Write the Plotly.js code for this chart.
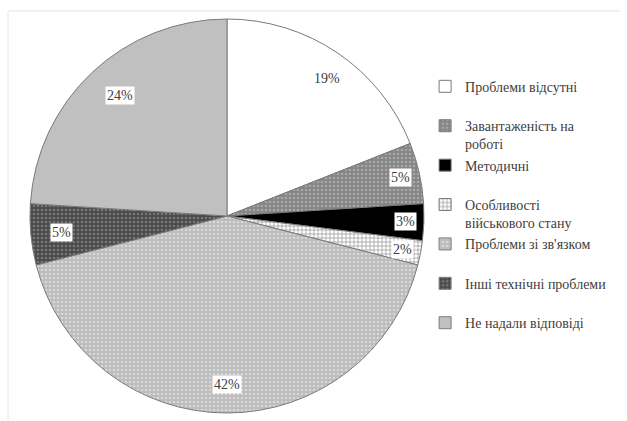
<!DOCTYPE html>
<html><head><meta charset="utf-8">
<script src="https://cdn.plot.ly/plotly-3.0.1.min.js"></script>
<style>html,body{margin:0;padding:0;background:#fff}#c{width:627px;height:421px}</style>
</head><body><div id="c"></div>
<script>
const labels = ["Проблеми відсутні", "Завантаженість на<br>роботі", "Методичні", "Особливості<br>військового стану", "Проблеми зі зв'язком", "Інші технічні проблеми", "Не надали відповіді"];
const values = [19, 5, 3, 2, 42, 5, 24];
const bgColors = ["#ffffff", "#858585", "#000000", "#ffffff", "#bcbcbc", "#4a4a4a", "#c0c0c0"];
const fgColors = ["#ffffff", "#a8a8a8", "#000000", "#9a9a9a", "#d8d8d8", "#777777", "#c0c0c0"];
const shapes = ["", ".", "", "+", ".", ".", ""];

const W = 627, H = 421;
const cx = 227, cy = 216, R = 197;
const dom = {x: [(cx - R) / W, (cx + R) / W], y: [(H - cy - R) / H, (H - cy + R) / H]};
const FONT = "'Liberation Serif', 'Times New Roman', serif";

const legendLabels = labels.map(l => l.includes("<br>") ? l : l + "<br> ");

const total = values.reduce((a, b) => a + b, 0);
let cum = 0;
const annotations = values.map(v => {
  const mid = (cum + v / 2) / total * 2 * Math.PI;
  cum += v;
  const r = 0.905 * R;
  const px = cx + r * Math.sin(mid), py = cy - r * Math.cos(mid);
  return {x: px / W, y: (H - py) / H, xref: "paper", yref: "paper", showarrow: false,
    text: v + "%", bgcolor: "#ffffff", borderpad: 1,
    font: {family: FONT, size: 14, color: "#404040"}};
});

const trace = {
  type: "pie", labels: legendLabels, values: values, sort: false, direction: "clockwise", rotation: 0,
  textinfo: "none", hoverinfo: "none", domain: dom,
  marker: {colors: bgColors, line: {color: "#7a7a7a", width: 1},
    pattern: {shape: shapes, fgcolor: fgColors, bgcolor: bgColors, size: 4, solidity: 0.35, fillmode: "replace"}}
};

const layout = {
  width: W, height: H, margin: {l: 0, r: 0, t: 0, b: 0}, paper_bgcolor: "#fff",
  font: {family: FONT, size: 14, color: "#404040"},
  showlegend: true,
  legend: {x: 0.678, y: 0.832, xanchor: "left", yanchor: "top", valign: "top", itemwidth: 30,
    font: {family: FONT, size: 14, color: "#404040"}, bgcolor: "rgba(0,0,0,0)"},
  annotations: annotations,
  shapes: [
    {type: "line", xref: "paper", yref: "paper", x0: 8 / W, x1: 620 / W, y0: (H - 11) / H, y1: (H - 11) / H, line: {color: "#e4e4e4", width: 1}},
    {type: "line", xref: "paper", yref: "paper", x0: 8 / W, x1: 8 / W, y0: 0, y1: (H - 11) / H, line: {color: "#e4e4e4", width: 1}}
  ]
};
Plotly.newPlot("c", [trace], layout, {staticPlot: true});
</script></body></html>
